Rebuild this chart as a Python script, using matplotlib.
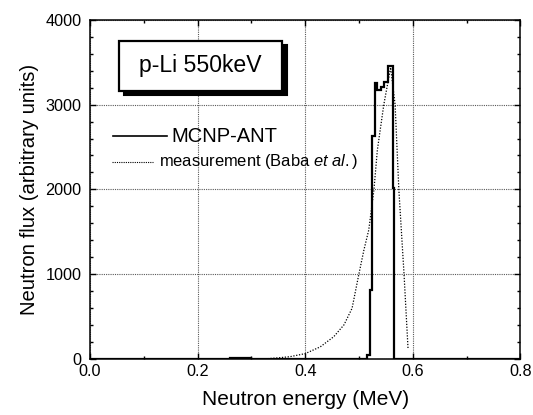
import matplotlib
matplotlib.use("Agg")
import matplotlib.pyplot as plt
from matplotlib.patches import Rectangle
from matplotlib.lines import Line2D
from matplotlib.ticker import MultipleLocator
import matplotlib.transforms as mtransforms

plt.rcParams['font.family'] = ['Liberation Sans', 'DejaVu Sans']
plt.rcParams['mathtext.fontset'] = 'custom'
plt.rcParams['mathtext.rm'] = 'Liberation Sans'
plt.rcParams['mathtext.it'] = 'Liberation Sans:italic'

# MCNP-ANT histogram (bin edges in MeV, flux per bin)
mcnp_edges = [0.0, 0.26, 0.265, 0.27, 0.275, 0.28, 0.285, 0.29, 0.295, 0.30,
              0.514, 0.520, 0.5246, 0.529, 0.534, 0.540, 0.5456, 0.554,
              0.5624, 0.5648, 0.8]
mcnp_flux = [0, 5, 7, 9, 10, 8, 9, 6, 4, 0,
             44, 811, 2629, 3251, 3172, 3211, 3270, 3456, 2015, 0]

# Measurement (Baba et al.)
meas_energy = [0.33, 0.35, 0.372, 0.40, 0.428, 0.453, 0.472, 0.487, 0.4997,
               0.509, 0.518, 0.5276, 0.534, 0.546, 0.5587, 0.567, 0.574,
               0.5835, 0.591]
meas_flux = [0, 10, 24, 60, 140, 260, 400, 595, 1000,
             1283, 1519, 1991, 2464, 3000, 3440, 3000, 1991,
             1008, 122]

xticks = [0.0, 0.2, 0.4, 0.6, 0.8]
xticklabels = ["0.0", "0.2", "0.4", "0.6", "0.8"]
yticks = [0, 1000, 2000, 3000, 4000]
yticklabels = ["0", "1000", "2000", "3000", "4000"]

fig = plt.figure(figsize=(5.33, 4.15), dpi=100)
ax = fig.add_axes([0.1689, 0.1357, 0.8076, 0.8161])

ax.stairs(mcnp_flux, mcnp_edges, color='black', linewidth=1.6, baseline=None, zorder=3)
ax.plot(meas_energy, meas_flux, color='black', linewidth=0.9,
        linestyle=(0, (1, 1.3)), zorder=3)

ax.set_xlim(0, 0.8)
ax.set_ylim(0, 4000)
ax.set_xticks(xticks)
ax.set_xticklabels(xticklabels)
ax.set_yticks(yticks)
ax.set_yticklabels(yticklabels)
ax.xaxis.set_minor_locator(MultipleLocator(0.1))
ax.yaxis.set_minor_locator(MultipleLocator(200))
ax.tick_params(which='both', direction='in', top=True, right=True, width=1.0,
               labelsize=11.7, color='black')
ax.tick_params(which='major', length=4, pad=4)
ax.tick_params(axis='y', which='major', pad=6)
ax.tick_params(which='minor', length=2.5)
for s in ax.spines.values():
    s.set_linewidth(1.1)

ax.grid(True, which='major', color='0.35', linestyle=(0, (1, 1)), linewidth=0.8)
ax.set_axisbelow(True)

ax.set_xlabel("Neutron energy (MeV)", fontsize=15, labelpad=8)
ax.set_ylabel("Neutron flux (arbitrary units)", fontsize=14.6, labelpad=5)

# Legend (manual)
ax.add_line(Line2D([0.0541, 0.178], [0.6575, 0.6575], transform=ax.transAxes,
                   color='black', linewidth=1.2, zorder=4))
ax.text(0.1898, 0.6575, "MCNP-ANT", transform=ax.transAxes, fontsize=14.5,
        va='center', ha='left', zorder=4)
ax.add_line(Line2D([0.0504, 0.147], [0.5816, 0.5816], transform=ax.transAxes,
                   color='black', linewidth=0.8, linestyle=(0, (1, 1)), zorder=4))
ax.text(0.161, 0.5816, r"measurement (Baba $\mathit{et\ al.}$)", transform=ax.transAxes,
        fontsize=11.9, va='center', ha='left', zorder=4)

# Title box with shadow
bx0, by0, bw, bh = 0.068, 0.7913, 0.3787, 0.1476
shadow = mtransforms.offset_copy(ax.transAxes, fig=fig, x=4.5, y=-4.5, units='dots')
ax.add_patch(Rectangle((bx0, by0), bw, bh, transform=shadow, facecolor='black',
                       edgecolor='black', linewidth=1.5, zorder=5))
ax.add_patch(Rectangle((bx0, by0), bw, bh, transform=ax.transAxes, facecolor='white',
                       edgecolor='black', linewidth=1.6, zorder=6))
ax.text(bx0 + bw / 2, by0 + bh / 2, "p-Li 550keV", transform=ax.transAxes,
        fontsize=16.6, ha='center', va='center', zorder=7)

fig.savefig("out.png", dpi=100)
